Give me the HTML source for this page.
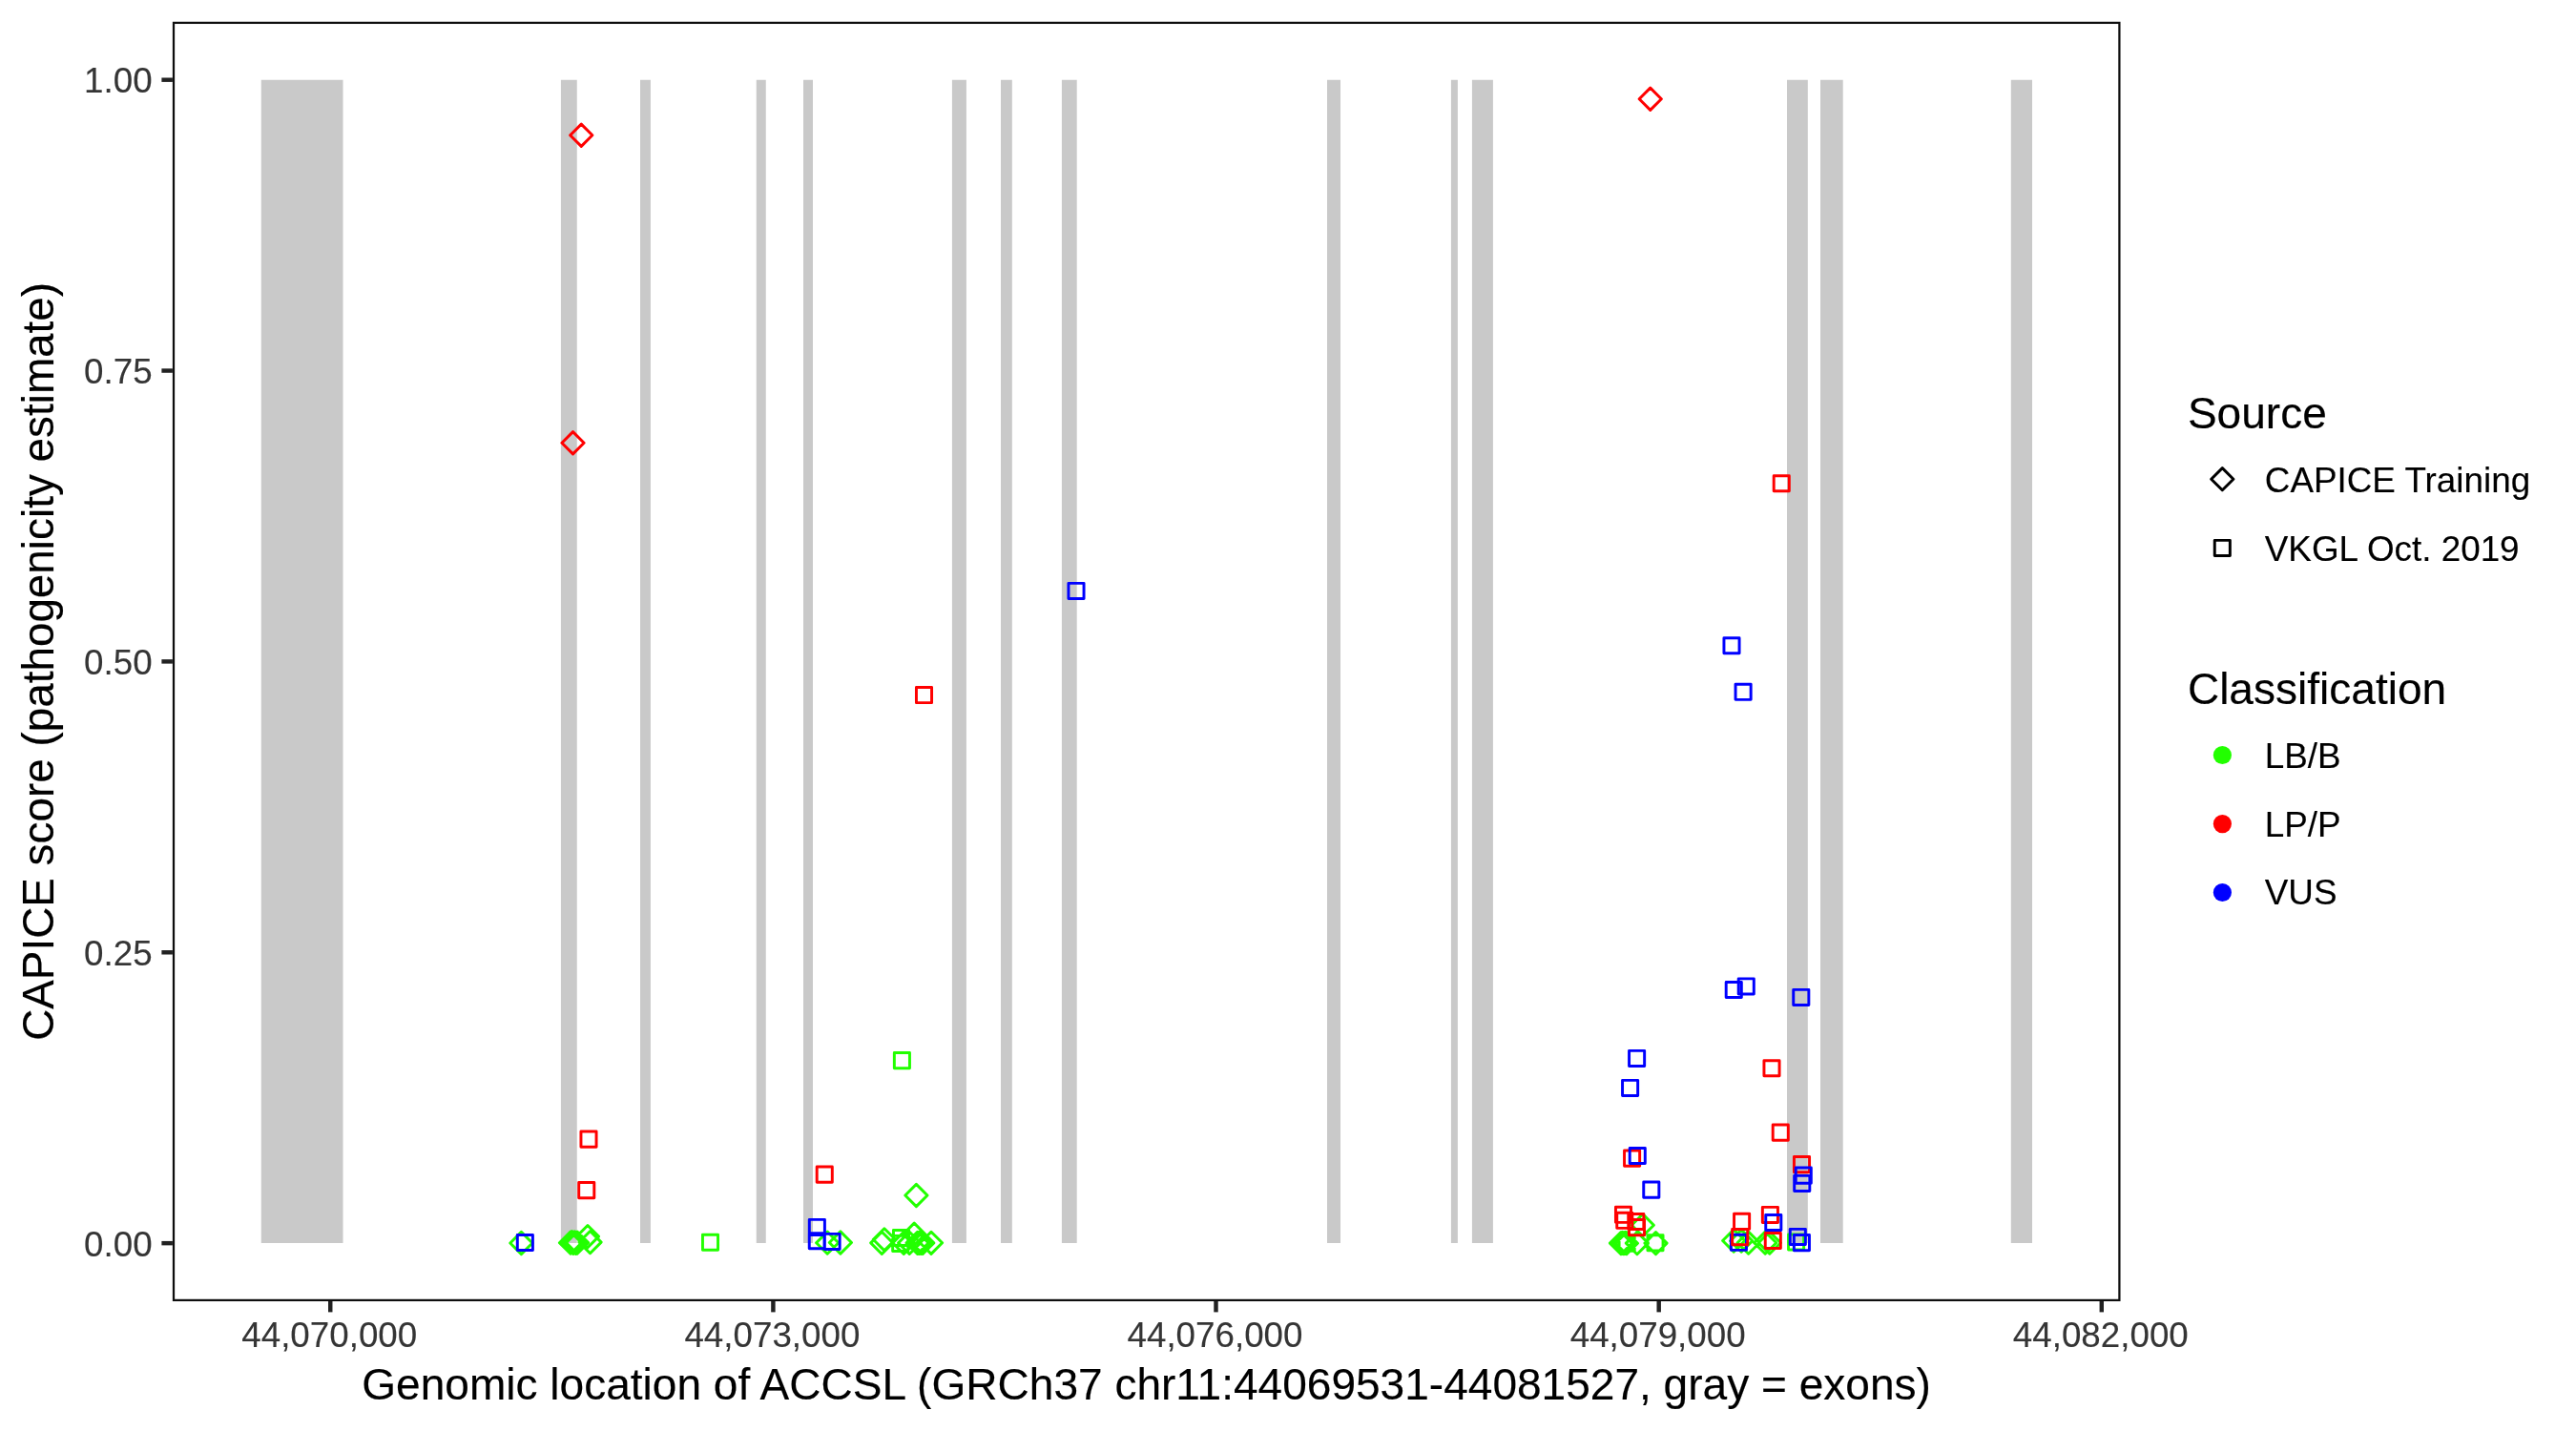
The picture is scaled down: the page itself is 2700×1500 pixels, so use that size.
<!DOCTYPE html>
<html><head><meta charset="utf-8"><title>ACCSL CAPICE scores</title>
<style>
html,body{margin:0;padding:0;background:#fff;width:2700px;height:1500px;overflow:hidden;}
svg{display:block;will-change:transform;}
text{font-family:"Liberation Sans",sans-serif;}
.at{font-size:36.75px;fill:#353535;stroke:#353535;stroke-width:0.12px;}
.ti{font-size:46.05px;fill:#000;stroke:#000;stroke-width:0.15px;}
.yt{font-size:45.85px;}
.lb{font-size:36.85px;fill:#000;stroke:#000;stroke-width:0.12px;}
.pt{fill:none;stroke-width:2.95;stroke-linejoin:round;}
</style></head>
<body>
<svg width="2700" height="1500" viewBox="0 0 2700 1500">
<rect x="0" y="0" width="2700" height="1500" fill="#FFFFFF"/>
<g fill="#C9C9C9">
<rect x="273.75" y="83.75" width="85.75" height="1219.25"/>
<rect x="587.9" y="83.75" width="16.85" height="1219.25"/>
<rect x="671" y="83.75" width="10.90" height="1219.25"/>
<rect x="792.75" y="83.75" width="10.00" height="1219.25"/>
<rect x="842" y="83.75" width="10.00" height="1219.25"/>
<rect x="997.9" y="83.75" width="15.00" height="1219.25"/>
<rect x="1049" y="83.75" width="11.80" height="1219.25"/>
<rect x="1112.9" y="83.75" width="15.80" height="1219.25"/>
<rect x="1391" y="83.75" width="14.00" height="1219.25"/>
<rect x="1520.9" y="83.75" width="7.00" height="1219.25"/>
<rect x="1542.9" y="83.75" width="22.00" height="1219.25"/>
<rect x="1873" y="83.75" width="21.80" height="1219.25"/>
<rect x="1908" y="83.75" width="23.70" height="1219.25"/>
<rect x="2107.8" y="83.75" width="22.20" height="1219.25"/>
</g>
<path class="pt" stroke="#22FF00" d="M534.80 1303.00L546.40 1291.40L558.00 1303.00L546.40 1314.60Z M586.40 1302.70L598.00 1291.10L609.60 1302.70L598.00 1314.30Z M587.80 1302.20L599.40 1290.60L611.00 1302.20L599.40 1313.80Z M589.20 1302.90L600.80 1291.30L612.40 1302.90L600.80 1314.50Z M590.60 1302.40L602.20 1290.80L613.80 1302.40L602.20 1314.00Z M592.00 1302.90L603.60 1291.30L615.20 1302.90L603.60 1314.50Z M593.40 1302.60L605.00 1291.00L616.60 1302.60L605.00 1314.20Z M604.36 1296.10L615.96 1284.50L627.56 1296.10L615.96 1307.70Z M606.95 1302.10L618.55 1290.50L630.15 1302.10L618.55 1313.70Z M855.60 1302.70L867.20 1291.10L878.80 1302.70L867.20 1314.30Z M869.30 1302.50L880.90 1290.90L892.50 1302.50L880.90 1314.10Z M948.80 1253.00L960.40 1241.40L972.00 1253.00L960.40 1264.60Z M912.70 1302.85L924.30 1291.25L935.90 1302.85L924.30 1314.45Z M915.30 1299.30L926.90 1287.70L938.50 1299.30L926.90 1310.90Z M946.60 1293.70L958.20 1282.10L969.80 1293.70L958.20 1305.30Z M964.40 1302.80L976.00 1291.20L987.60 1302.80L976.00 1314.40Z M935.70 1302.90L947.30 1291.30L958.90 1302.90L947.30 1314.50Z M941.60 1302.90L953.20 1291.30L964.80 1302.90L953.20 1314.50Z M950.00 1302.90L961.60 1291.30L973.20 1302.90L961.60 1314.50Z M951.70 1302.80L963.30 1291.20L974.90 1302.80L963.30 1314.40Z M953.70 1302.90L965.30 1291.30L976.90 1302.90L965.30 1314.50Z M955.60 1302.90L967.20 1291.30L978.80 1302.90L967.20 1314.50Z M1710.20 1284.20L1721.80 1272.60L1733.40 1284.20L1721.80 1295.80Z M1687.40 1303.10L1699.00 1291.50L1710.60 1303.10L1699.00 1314.70Z M1688.80 1302.90L1700.40 1291.30L1712.00 1302.90L1700.40 1314.50Z M1690.30 1303.20L1701.90 1291.60L1713.50 1303.20L1701.90 1314.80Z M1691.70 1302.90L1703.30 1291.30L1714.90 1302.90L1703.30 1314.50Z M1693.30 1303.20L1704.90 1291.60L1716.50 1303.20L1704.90 1314.80Z M1704.30 1303.10L1715.90 1291.50L1727.50 1303.10L1715.90 1314.70Z M1723.90 1303.10L1735.50 1291.50L1747.10 1303.10L1735.50 1314.70Z M1805.60 1300.50L1817.20 1288.90L1828.80 1300.50L1817.20 1312.10Z M1813.60 1300.70L1825.20 1289.10L1836.80 1300.70L1825.20 1312.30Z M1821.00 1302.70L1832.60 1291.10L1844.20 1302.70L1832.60 1314.30Z M1838.60 1302.70L1850.20 1291.10L1861.80 1302.70L1850.20 1314.30Z M1843.20 1302.70L1854.80 1291.10L1866.40 1302.70L1854.80 1314.30Z M1697.10 1295.05h16.10v16.10h-16.10Z M736.45 1294.15h16.10v16.10h-16.10Z M937.35 1103.55h16.10v16.10h-16.10Z M936.45 1289.45h16.10v16.10h-16.10Z M935.65 1295.35h16.10v16.10h-16.10Z M1726.95 1294.75h16.10v16.10h-16.10Z M1874.55 1293.95h16.10v16.10h-16.10Z"/>
<path class="pt" stroke="#0000FF" d="M1814.35 1294.25h16.10v16.10h-16.10Z"/>
<path class="pt" stroke="#FF0000" d="M597.65 141.75L609.25 130.15L620.85 141.75L609.25 153.35Z M588.90 464.25L600.50 452.65L612.10 464.25L600.50 475.85Z M1718.15 103.75L1729.75 92.15L1741.35 103.75L1729.75 115.35Z M608.95 1186.05h16.10v16.10h-16.10Z M606.70 1239.55h16.10v16.10h-16.10Z M856.20 1223.05h16.10v16.10h-16.10Z M960.45 720.55h16.10v16.10h-16.10Z M1859.20 498.70h16.10v16.10h-16.10Z M1848.95 1111.65h16.10v16.10h-16.10Z M1858.20 1179.05h16.10v16.10h-16.10Z M1880.45 1212.55h16.10v16.10h-16.10Z M1702.55 1206.05h16.10v16.10h-16.10Z M1693.45 1265.25h16.10v16.10h-16.10Z M1694.75 1271.25h16.10v16.10h-16.10Z M1706.75 1272.45h16.10v16.10h-16.10Z M1707.45 1278.55h16.10v16.10h-16.10Z M1817.55 1272.25h16.10v16.10h-16.10Z M1815.65 1288.55h16.10v16.10h-16.10Z M1847.35 1265.35h16.10v16.10h-16.10Z M1850.25 1292.45h16.10v16.10h-16.10Z"/>
<path class="pt" stroke="#0000FF" d="M542.30 1294.45h16.10v16.10h-16.10Z M848.30 1278.35h16.10v16.10h-16.10Z M848.25 1292.65h16.10v16.10h-16.10Z M864.05 1293.35h16.10v16.10h-16.10Z M1119.95 611.35h16.10v16.10h-16.10Z M1806.95 668.70h16.10v16.10h-16.10Z M1819.05 717.25h16.10v16.10h-16.10Z M1809.20 1029.45h16.10v16.10h-16.10Z M1822.20 1025.85h16.10v16.10h-16.10Z M1879.75 1037.35h16.10v16.10h-16.10Z M1707.55 1101.35h16.10v16.10h-16.10Z M1700.55 1132.35h16.10v16.10h-16.10Z M1708.20 1203.45h16.10v16.10h-16.10Z M1722.75 1239.05h16.10v16.10h-16.10Z M1882.20 1224.05h16.10v16.10h-16.10Z M1880.70 1232.35h16.10v16.10h-16.10Z M1850.75 1273.45h16.10v16.10h-16.10Z M1876.25 1288.35h16.10v16.10h-16.10Z M1880.35 1294.55h16.10v16.10h-16.10Z"/>
<rect x="182" y="23.9" width="2039.4" height="1339" fill="none" stroke="#0E0E0E" stroke-width="2.25"/>
<g stroke="#222222" stroke-width="4.45">
<line x1="169.4" x2="180.9" y1="83.7" y2="83.7"/>
<line x1="169.4" x2="180.9" y1="388.55" y2="388.55"/>
<line x1="169.4" x2="180.9" y1="693.4" y2="693.4"/>
<line x1="169.4" x2="180.9" y1="998.3" y2="998.3"/>
<line x1="169.4" x2="180.9" y1="1303.15" y2="1303.15"/>
<line x1="346.25" x2="346.25" y1="1364" y2="1375.4"/>
<line x1="810.4" x2="810.4" y1="1364" y2="1375.4"/>
<line x1="1274.5" x2="1274.5" y1="1364" y2="1375.4"/>
<line x1="1738.7" x2="1738.7" y1="1364" y2="1375.4"/>
<line x1="2202.8" x2="2202.8" y1="1364" y2="1375.4"/>
</g>
<text class="at" x="159.6" y="96.7" text-anchor="end">1.00</text>
<text class="at" x="159.6" y="401.7" text-anchor="end">0.75</text>
<text class="at" x="159.6" y="706.7" text-anchor="end">0.50</text>
<text class="at" x="159.6" y="1011.7" text-anchor="end">0.25</text>
<text class="at" x="159.6" y="1316.7" text-anchor="end">0.00</text>
<text class="at" x="345.25" y="1411.9" text-anchor="middle">44,070,000</text>
<text class="at" x="809.40" y="1411.9" text-anchor="middle">44,073,000</text>
<text class="at" x="1273.50" y="1411.9" text-anchor="middle">44,076,000</text>
<text class="at" x="1737.70" y="1411.9" text-anchor="middle">44,079,000</text>
<text class="at" x="2201.80" y="1411.9" text-anchor="middle">44,082,000</text>
<text class="ti" x="1201.6" y="1467.2" text-anchor="middle">Genomic location of ACCSL (GRCh37 chr11:44069531-44081527, gray = exons)</text>
<text class="ti yt" transform="translate(55.8 693.4) rotate(-90)" text-anchor="middle">CAPICE score (pathogenicity estimate)</text>
<text class="ti" x="2292.9" y="448.8">Source</text>
<path fill="none" stroke="#000" stroke-width="2.95" stroke-linejoin="round" d="M2317.70 502.20L2329.30 490.60L2340.90 502.20L2329.30 513.80Z M2321.25 566.35h16.10v16.10h-16.10Z"/>
<text class="lb" x="2373.8" y="516.1">CAPICE Training</text>
<text class="lb" x="2373.8" y="588.0">VKGL Oct. 2019</text>
<text class="ti" x="2292.9" y="738.3">Classification</text>
<circle cx="2329.4" cy="791.5" r="9.6" fill="#22FF00"/>
<text class="lb" x="2373.8" y="804.7">LB/B</text>
<circle cx="2329.4" cy="863.6" r="9.6" fill="#FF0000"/>
<text class="lb" x="2373.8" y="876.6">LP/P</text>
<circle cx="2329.4" cy="935.5" r="9.6" fill="#0000FF"/>
<text class="lb" x="2373.8" y="948.3">VUS</text>
</svg>
</body></html>
